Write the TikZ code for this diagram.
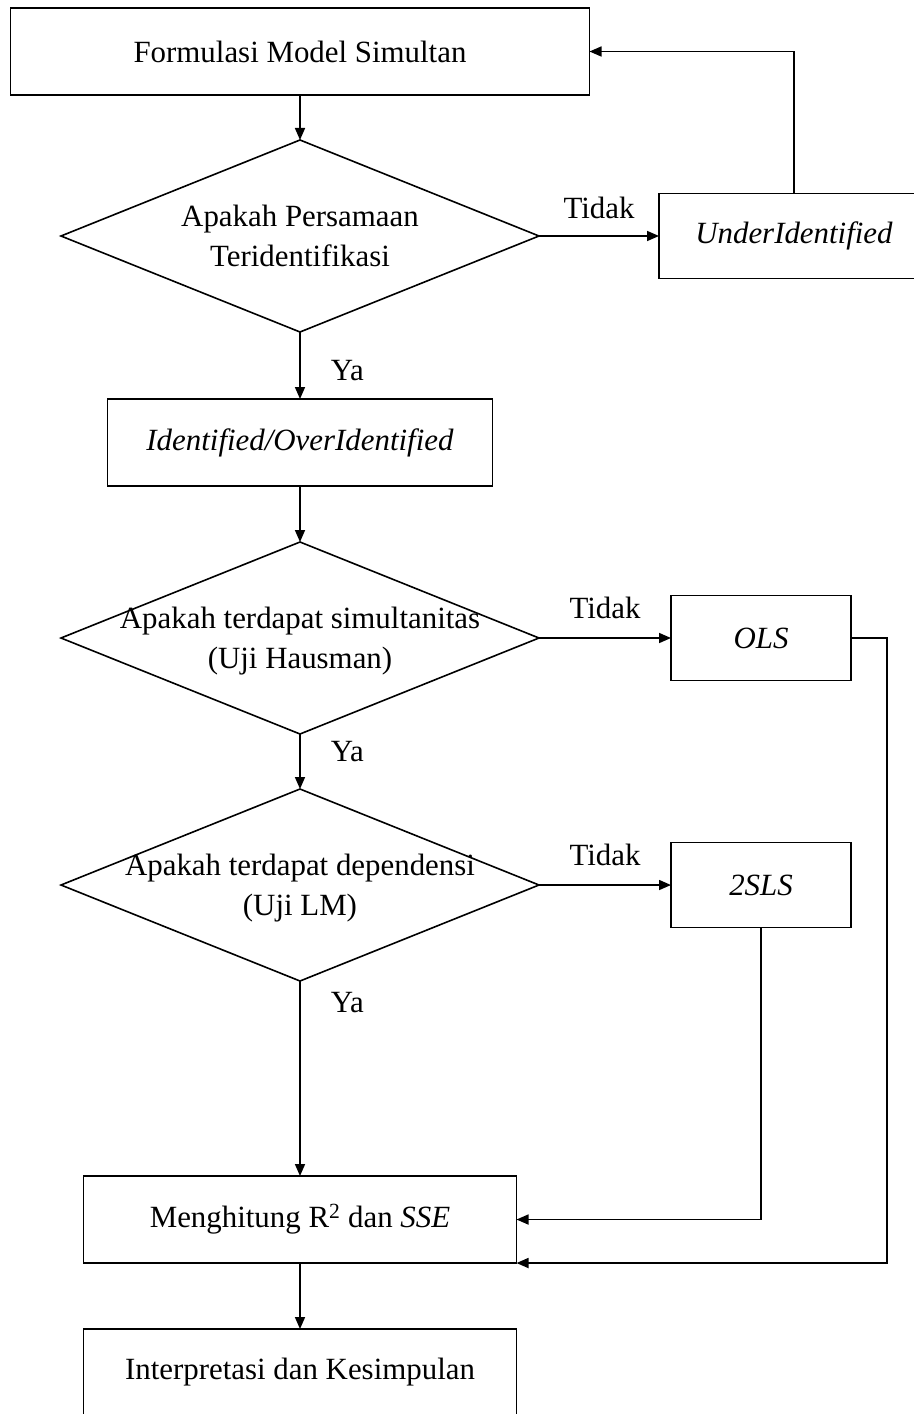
\documentclass[tikz,border=0pt]{standalone}
\usepackage{fontspec}
\setmainfont{Liberation Serif}
\usetikzlibrary{arrows.meta, positioning, shapes.geometric}

\begin{document}
\begin{tikzpicture}[x=1bp, y=-1bp,
  font=\fontsize{31}{40}\selectfont,
  line width=1.6bp,
  box/.style={draw, minimum height=87bp, inner sep=2pt, outer sep=0pt, align=center},
  side/.style={box, minimum width=180bp, minimum height=85bp},
  dec/.style={draw, diamond, minimum width=478bp, minimum height=192bp,
              inner sep=0pt, outer sep=0pt},
  txt/.style={align=center, inner sep=0pt},
  lbl/.style={inner sep=2pt},
  a/.style={-{Triangle[length=12bp, width=10bp]}}]
\useasboundingbox (0,0) rectangle (913,1414);
\node[box, minimum width=579bp] (fms) at (300,51.5) {Formulasi Model Simultan};
\node[dec, below=45bp of fms] (d1) {};
\node[txt] (d1t) at (d1) {Apakah Persamaan\\Teridentifikasi};
\node[box, minimum width=270bp, minimum height=85bp, right=120bp of d1]
  (under) {\textit{UnderIdentified}};
\node[box, minimum width=385bp, below=67bp of d1] (idf) {\textit{Identified/OverIdentified}};
\node[dec, below=56bp of idf] (d2) {};
\node[txt] (d2t) at ([yshift=-3bp]d2) {Apakah terdapat simultanitas\\(Uji Hausman)};
\node[side, right=132bp of d2] (ols) {\textit{OLS}};
\node[dec, below=55bp of d2] (d3) {};
\node[txt] (d3t) at ([yshift=-3bp]d3) {Apakah terdapat dependensi\\(Uji LM)};
\node[side, right=132bp of d3] (sls) {\textit{2SLS}};
\node[box, minimum width=433bp, below=195bp of d3] (hit) {Menghitung R\textsuperscript{2} dan \textit{SSE}};
\node[box, minimum width=433bp, below=66bp of hit] (intp) {Interpretasi dan Kesimpulan};
\draw[a] (fms) -- (d1);
\draw[a] (d1) -- node[lbl, above, yshift=14bp]{Tidak} (under);
\draw[a] (under.north) |- (fms.east);
\draw[a] (d1) -- node[lbl, right, pos=0.57, xshift=28bp]{Ya} (idf);
\draw[a] (idf) -- (d2);
\draw[a] (d2) -- node[lbl, above, yshift=16bp]{Tidak} (ols);
\draw[a] (d2) -- node[lbl, right, pos=0.31, xshift=28bp]{Ya} (d3);
\draw[a] (d3) -- node[lbl, above, yshift=16bp]{Tidak} (sls);
\draw[a] (d3) -- node[lbl, right, pos=0.11, xshift=28bp]{Ya} (hit);
\draw[a] (sls.south) |- (hit.east);
\draw[a] (ols.east) -- ++(36,0) |- (hit.south east);
\draw[a] (hit) -- (intp);
\end{tikzpicture}
\end{document}
